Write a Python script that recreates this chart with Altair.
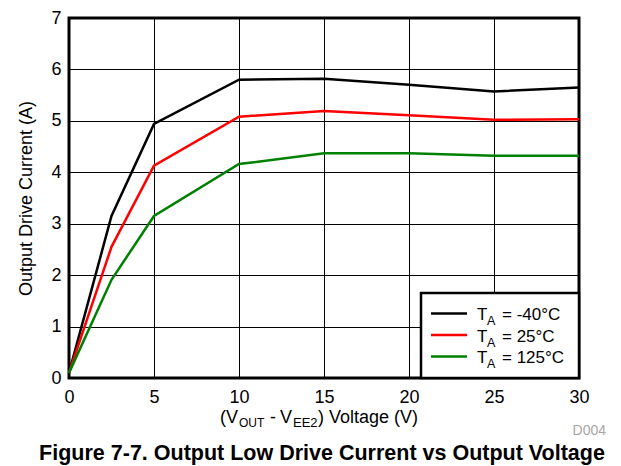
import altair as alt
import pandas as pd

# ---- data ----
voltage = [0, 2.5, 5, 10, 15, 20, 25, 30]
cur_m40 = [0.10, 3.15, 4.94, 5.80, 5.82, 5.70, 5.57, 5.65]
cur_25 = [0.10, 2.55, 4.13, 5.08, 5.19, 5.11, 5.02, 5.03]
cur_125 = [0.10, 1.91, 3.15, 4.16, 4.37, 4.37, 4.32, 4.32]

series_names = ["-40°C", "25°C", "125°C"]
series_colors = ["#000000", "#ff0000", "#008000"]
x_ticks = [0, 5, 10, 15, 20, 25, 30]
y_ticks = [0, 1, 2, 3, 4, 5, 6, 7]

title_text = "Figure 7-7. Output Low Drive Current vs Output Voltage"
y_title = "Output Drive Current (A)"
doc_code = "D004"

FONT = "Liberation Sans"

rows = []
for name, vals in zip(series_names, [cur_m40, cur_25, cur_125]):
    for v, c in zip(voltage, vals):
        rows.append({"V": v, "I": c, "series": name})
df = pd.DataFrame(rows)

W, H = 510, 360

lines = alt.Chart(df).mark_line(strokeWidth=2.5).encode(
    x=alt.X("V:Q", scale=alt.Scale(domain=[0, 30], nice=False),
            axis=alt.Axis(values=x_ticks, title=None, format="d")),
    y=alt.Y("I:Q", scale=alt.Scale(domain=[0, 7], nice=False),
            axis=alt.Axis(values=y_ticks, title=y_title, format="d")),
    color=alt.Color("series:N", scale=alt.Scale(domain=series_names, range=series_colors),
                    legend=None),
    order=alt.Order("V:Q"),
)

one = pd.DataFrame({"k": [0]})
base = alt.Chart(one)

# x-axis title with subscripts: (V_OUT - V_EE2) Voltage (V)
xt_parts = [
    ("(V", 151, 404.5, 18),
    ("OUT", 170, 409, 12),
    ("-", 201, 404.5, 18),
    ("V", 211, 404.5, 18),
    ("EE2", 224, 409, 13),
    (") Voltage (V)", 249, 404.5, 18),
]
xt_layers = [
    base.mark_text(text=t, font=FONT, fontSize=fs, align="left", baseline="alphabetic",
                   color="#000000").encode(x=alt.value(px), y=alt.value(py))
    for t, px, py, fs in xt_parts
]

title_layer = base.mark_text(text=title_text, font=FONT, fontSize=21.5, fontWeight="bold",
                             align="center", baseline="alphabetic", color="#000000").encode(
    x=alt.value(253), y=alt.value(442))
code_layer = base.mark_text(text=doc_code, font=FONT, fontSize=14, align="right",
                            baseline="alphabetic", color="#a6a6a6").encode(
    x=alt.value(537), y=alt.value(417))

# legend box
legend_box = base.mark_rect(fill="white", stroke="black", strokeWidth=2.5).encode(
    x=alt.value(352), x2=alt.value(510), y=alt.value(275), y2=alt.value(360))

legend_layers = []
row_base = [302, 323.5, 345]
for name, col, yb in zip(series_names, series_colors, row_base):
    legend_layers.append(base.mark_rule(color=col, strokeWidth=2.5).encode(
        x=alt.value(362), x2=alt.value(398), y=alt.value(yb - 6.5)))
    legend_layers.append(base.mark_text(text="T", font=FONT, fontSize=17, align="left",
                                        baseline="alphabetic").encode(
        x=alt.value(408), y=alt.value(yb)))
    legend_layers.append(base.mark_text(text="A", font=FONT, fontSize=12.5, align="left",
                                        baseline="alphabetic").encode(
        x=alt.value(418), y=alt.value(yb + 5)))
    legend_layers.append(base.mark_text(text="= " + name, font=FONT, fontSize=17, align="left",
                                        baseline="alphabetic").encode(
        x=alt.value(433), y=alt.value(yb)))

chart = alt.layer(lines, legend_box, *legend_layers, *xt_layers, title_layer, code_layer).properties(
    width=W, height=H,
    autosize=alt.AutoSizeParams(type="none"),
    padding={"left": 61, "top": 10, "right": 34, "bottom": 87},
).configure_view(
    stroke="black", strokeWidth=3
).configure_axis(
    grid=True, gridColor="#000000", gridWidth=1, gridOpacity=1,
    domain=False, ticks=False, labelFlush=False,
    labelFont=FONT, labelFontSize=18, labelColor="#000000",
    titleFont=FONT, titleFontSize=18, titleFontWeight="normal", titleColor="#000000",
).configure_axisX(
    labelPadding=10,
).configure_axisY(
    labelPadding=8, titlePadding=15,
)

chart.save("out.html", embed_options={"renderer": "svg", "actions": False})
